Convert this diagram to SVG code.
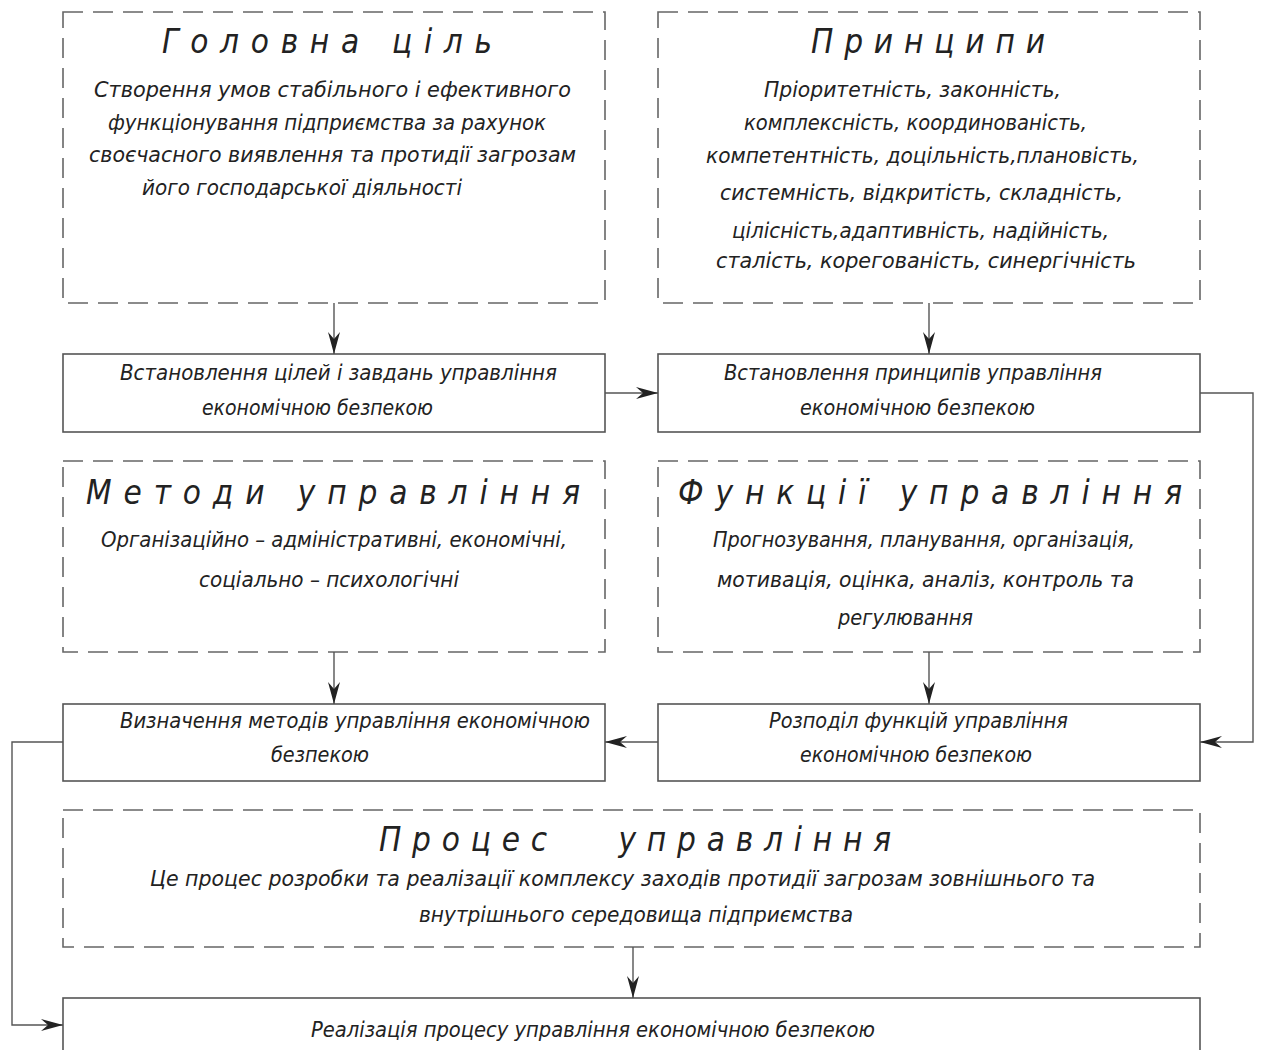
<svg xmlns="http://www.w3.org/2000/svg" width="1262" height="1050" viewBox="0 0 1262 1050">
<style>
.dash{fill:none;stroke:#666;stroke-width:1.6;stroke-dasharray:20 10}
.solid{fill:none;stroke:#555;stroke-width:1.6}
.conn{fill:none;stroke:#555;stroke-width:1.4}
.t{font-family:"DejaVu Sans Condensed","DejaVu Sans",sans-serif;font-style:italic;font-weight:200;font-size:22px;fill:#222}
.h{font-family:"DejaVu Sans Condensed","DejaVu Sans",sans-serif;font-style:italic;font-weight:200;font-size:33px;fill:#222;white-space:pre}
</style>
<defs>
<marker id="arr" viewBox="-24 -8 26 16" refX="0" refY="0" markerWidth="26" markerHeight="16" markerUnits="userSpaceOnUse" orient="auto">
<path d="M0,0 L-22,-6 L-15,0 L-22,6 Z" fill="#222"/>
</marker>
</defs>
<rect width="1262" height="1050" fill="#fff"/>

<g id="goal">
<rect class="dash" x="63" y="12" width="542" height="291"/>
<text class="h" xml:space="preserve" x="162" y="53" textLength="330" lengthAdjust="spacing">Головна ціль</text>
<text class="t" x="94" y="97" textLength="477" lengthAdjust="spacingAndGlyphs">Створення умов стабільного і ефективного</text>
<text class="t" x="108" y="130" textLength="438" lengthAdjust="spacingAndGlyphs">функціонування підприємства за рахунок</text>
<text class="t" x="89" y="162" textLength="487" lengthAdjust="spacingAndGlyphs">своєчасного виявлення та протидії загрозам</text>
<text class="t" x="142" y="195" textLength="320" lengthAdjust="spacingAndGlyphs">його господарської діяльності</text>
</g>

<g id="principles">
<rect class="dash" x="658" y="12" width="542" height="291"/>
<text class="h" x="811" y="53" textLength="234" lengthAdjust="spacing">Принципи</text>
<text class="t" x="764" y="97" textLength="297" lengthAdjust="spacingAndGlyphs">Пріоритетність,  законність,</text>
<text class="t" x="744" y="130" textLength="343" lengthAdjust="spacingAndGlyphs">комплексність,  координованість,</text>
<text class="t" x="706" y="163" textLength="433" lengthAdjust="spacingAndGlyphs">компетентність,  доцільність,плановість,</text>
<text class="t" x="720" y="200" textLength="403" lengthAdjust="spacingAndGlyphs">системність,  відкритість,  складність,</text>
<text class="t" x="732" y="238" textLength="377" lengthAdjust="spacingAndGlyphs">цілісність,адаптивність,  надійність,</text>
<text class="t" x="716" y="268" textLength="420" lengthAdjust="spacingAndGlyphs">сталість,  корегованість,  синергічність</text>
</g>

<g id="set-goals">
<rect class="solid" x="63" y="354" width="542" height="78"/>
<text class="t" x="120" y="380" textLength="437" lengthAdjust="spacingAndGlyphs">Встановлення цілей і завдань управління</text>
<text class="t" x="202" y="415" textLength="231" lengthAdjust="spacingAndGlyphs">економічною безпекою</text>
</g>

<g id="set-principles">
<rect class="solid" x="658" y="354" width="542" height="78"/>
<text class="t" x="724" y="380" textLength="378" lengthAdjust="spacingAndGlyphs">Встановлення принципів управління</text>
<text class="t" x="800" y="415" textLength="235" lengthAdjust="spacingAndGlyphs">економічною безпекою</text>
</g>

<g id="methods">
<rect class="dash" x="63" y="461" width="542" height="191"/>
<text class="h" xml:space="preserve" x="86" y="504" textLength="494" lengthAdjust="spacing">Методи управління</text>
<text class="t" x="101" y="547" textLength="466" lengthAdjust="spacingAndGlyphs">Організаційно – адміністративні, економічні,</text>
<text class="t" x="199" y="587" textLength="260" lengthAdjust="spacingAndGlyphs">соціально – психологічні</text>
</g>

<g id="functions">
<rect class="dash" x="658" y="461" width="542" height="191"/>
<text class="h" xml:space="preserve" x="678" y="504" textLength="504" lengthAdjust="spacing">Функції управління</text>
<text class="t" x="713" y="547" textLength="422" lengthAdjust="spacingAndGlyphs">Прогнозування, планування, організація,</text>
<text class="t" x="717" y="587" textLength="417" lengthAdjust="spacingAndGlyphs">мотивація, оцінка, аналіз, контроль та</text>
<text class="t" x="838" y="625" textLength="135" lengthAdjust="spacingAndGlyphs">регулювання</text>
</g>

<g id="define-methods">
<rect class="solid" x="63" y="704" width="542" height="77"/>
<text class="t" x="120" y="728" textLength="470" lengthAdjust="spacingAndGlyphs">Визначення методів управління економічною</text>
<text class="t" x="271" y="762" textLength="98" lengthAdjust="spacingAndGlyphs">безпекою</text>
</g>

<g id="distribute-functions">
<rect class="solid" x="658" y="704" width="542" height="77"/>
<text class="t" x="769" y="728" textLength="299" lengthAdjust="spacingAndGlyphs">Розподіл функцій управління</text>
<text class="t" x="800" y="762" textLength="232" lengthAdjust="spacingAndGlyphs">економічною безпекою</text>
</g>

<g id="process">
<rect class="dash" x="63" y="810" width="1137" height="137"/>
<text class="h" xml:space="preserve" x="379" y="851" textLength="512" lengthAdjust="spacing">Процес   управління</text>
<text class="t" x="150" y="886" textLength="945" lengthAdjust="spacingAndGlyphs">Це процес розробки та реалізації комплексу заходів протидії загрозам зовнішнього та</text>
<text class="t" x="419" y="922" textLength="434" lengthAdjust="spacingAndGlyphs">внутрішнього середовища підприємства</text>
</g>

<g id="implementation">
<rect class="solid" x="63" y="998" width="1137" height="70"/>
<text class="t" x="311" y="1037" textLength="564" lengthAdjust="spacingAndGlyphs">Реалізація процесу управління економічною безпекою</text>
</g>

<g id="connectors">
<path class="conn" d="M334,303 L334,354" marker-end="url(#arr)"/>
<path class="conn" d="M929,303 L929,354" marker-end="url(#arr)"/>
<path class="conn" d="M605,393 L658,393" marker-end="url(#arr)"/>
<path class="conn" d="M1200,393 L1253,393 L1253,742 L1200,742" marker-end="url(#arr)"/>
<path class="conn" d="M334,652 L334,704" marker-end="url(#arr)"/>
<path class="conn" d="M929,652 L929,704" marker-end="url(#arr)"/>
<path class="conn" d="M658,742 L605,742" marker-end="url(#arr)"/>
<path class="conn" d="M63,742 L12,742 L12,1025 L63,1025" marker-end="url(#arr)"/>
<path class="conn" d="M633,947 L633,998" marker-end="url(#arr)"/>
</g>
</svg>
